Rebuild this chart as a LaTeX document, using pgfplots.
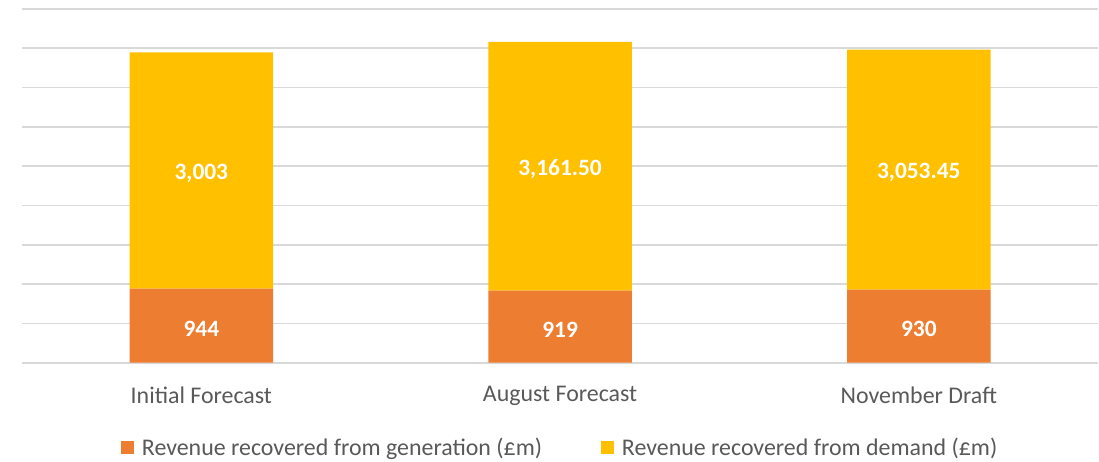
\documentclass[border=0pt]{standalone}
\usepackage{pgfplots}
\pgfplotsset{compat=1.18}
\usepackage{pgfplotstable}
\usepackage{fontspec}
\setmainfont{Carlito}
\definecolor{gen}{HTML}{ED7D31}
\definecolor{dem}{HTML}{FFC000}
\definecolor{gridc}{HTML}{D9D9D9}
\definecolor{txt}{HTML}{595959}
\pgfplotstableread{
x gen genlab dem demlab
0 944 944 3003 {3,003}
1 919 919 3161.50 {3,161.50}
2 930 930 3053.45 {3,053.45}
}\data
\begin{document}
\begin{tikzpicture}
\begin{axis}[
  scale only axis,
  width=1077bp, height=354bp,
  xmin=-0.5, xmax=2.5, ymin=0, ymax=4500,
  ytick={0,500,...,4500},
  yticklabels={},
  xtick={0,1,2},
  xticklabels={Initial Forecast, August Forecast, November Draft},
  ymajorgrids,
  major grid style={gridc, line width=1.6bp},
  axis line style={draw=none},
  major tick length=0pt,
  tick style={draw=none},
  x tick label style={font=\fontsize{24}{28}\selectfont, text=txt, anchor=center, yshift=-33bp},
  ybar stacked,
  bar width=0.4,
  point meta=explicit symbolic,
  nodes near coords,
  every node near coord/.append style={font=\bfseries\fontsize{23.5}{28}\selectfont, text=white, anchor=center, yshift=-3bp},
  legend columns=2,
  legend style={draw=none, at={(0.5,-0.2405)}, anchor=center, font=\fontsize{24}{28}\selectfont, text=txt,
    /tikz/every even column/.append style={column sep=57bp}},
  legend image code/.code={\fill[#1] (0bp,-6bp) rectangle (13bp,7bp); \path (19bp,0bp);},
]
\addplot[fill=gen, draw=none] table[x=x, y=gen, meta=genlab] {\data};
\addplot[fill=dem, draw=none] table[x=x, y=dem, meta=demlab] {\data};
\legend{Revenue recovered from generation (£m), Revenue recovered from demand (£m)}
\end{axis}
\path[use as bounding box] (-22bp,-99bp) rectangle (1077bp,363bp);
\end{tikzpicture}
\end{document}
